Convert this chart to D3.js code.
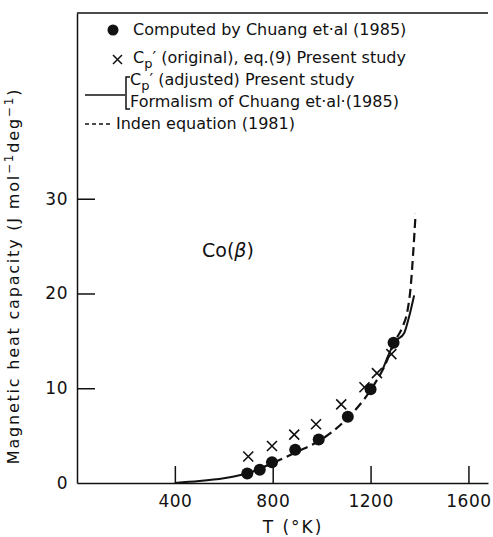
<!DOCTYPE html>
<html>
<head>
<meta charset="utf-8">
<script src="https://cdn.jsdelivr.net/npm/d3@7"></script>
<style>
    body { margin: 0; background: #fff; }
    svg text { font-family: "DejaVu Sans", sans-serif; fill: #111; }
</style>
</head>
<body>
<div id="container"></div>
<script>
// chart values
const xTicks = [400, 800, 1200, 1600];
const yTicks = [0, 10, 20, 30];

// Computed by Chuang et al (1985) - filled circles
const computedT = [696, 747, 797, 892, 988, 1107, 1200, 1294];
const computedCp = [1.0, 1.4, 2.2, 3.5, 4.6, 7.0, 9.9, 14.8];

// Cp' (original), eq.(9) - crosses
const originalT = [700, 797, 888, 977, 1080, 1175, 1226, 1285];
const originalCp = [2.8, 3.9, 5.1, 6.2, 8.3, 10.1, 11.6, 13.6];

// Cp' (adjusted) - solid curve (hidden under the dashes in the middle)
const adjustedT = [400, 500, 600, 700, null, 1250, 1300, 1337, 1357, 1378];
const adjustedCp = [0, 0.2, 0.5, 1.0, null, 12.0, 14.9, 15.8, 17.5, 19.8];

// Inden equation (1981) - dashed curve
const indenT = [700, 800, 900, 1000, 1100, 1200, 1260, 1300, 1331, 1351, 1364, 1374, 1384];
const indenCp = [1.0, 2.1, 3.3, 4.6, 6.7, 9.8, 12.5, 15.0, 16.5, 18.2, 20.7, 24.2, 28.4];

const legendLabels = [
    "Computed by Chuang et·al (1985)",
    "(original), eq.(9) Present study",
    "(adjusted) Present study",
    "Formalism of Chuang et·al·(1985)",
    "Inden equation (1981)"
];

const w = 493;
const h = 537;

const svg = d3.select("#container")
    .append("svg")
    .attr("width", w)
    .attr("height", h);

const x = d3.scaleLinear().domain([0, 1680]).range([77, 488]);
const y = d3.scaleLinear().domain([0, 49.6]).range([483, 13]);

// frame top line
svg.append("line")
    .attr("x1", x(0)).attr("x2", x(1680))
    .attr("y1", y(49.6)).attr("y2", y(49.6))
    .attr("stroke", "#111").attr("stroke-width", 1.5);

const xAxis = d3.axisBottom(x)
    .tickValues(xTicks)
    .tickFormat(d3.format("d"))
    .tickSizeInner(-17)
    .tickSizeOuter(0)
    .tickPadding(12);

const gx = svg.append("g")
    .attr("transform", `translate(0, ${y(0)})`)
    .call(xAxis);

const yAxis = d3.axisLeft(y)
    .tickValues(yTicks)
    .tickSizeInner(-18)
    .tickSizeOuter(0)
    .tickPadding(9);

const gy = svg.append("g")
    .attr("transform", `translate(${x(0)}, 0)`)
    .call(yAxis);

gy.selectAll(".tick").filter(d => d === 0).select("line").remove();

[gx, gy].forEach(g => {
    g.select(".domain").attr("stroke", "#111").attr("stroke-width", 1.5);
    g.selectAll(".tick line").attr("stroke", "#111").attr("stroke-width", 1.5);
    g.selectAll(".tick text")
        .attr("font-family", "DejaVu Sans, sans-serif")
        .attr("font-size", 17)
        .attr("letter-spacing", 0.5)
        .attr("fill", "#111");
});

// curves
const adjusted = adjustedT.map((t, i) => ({ t: t, v: adjustedCp[i] }));
const inden = indenT.map((t, i) => ({ t: t, v: indenCp[i] }));

const line = d3.line()
    .defined(d => d.t !== null)
    .x(d => x(d.t))
    .y(d => y(d.v))
    .curve(d3.curveMonotoneX);

svg.append("path")
    .attr("d", line(adjusted))
    .attr("fill", "none")
    .attr("stroke", "#111")
    .attr("stroke-width", 2);

svg.append("path")
    .attr("d", line(inden))
    .attr("fill", "none")
    .attr("stroke", "#111")
    .attr("stroke-width", 2.2)
    .attr("stroke-dasharray", "9,5");

// crosses
svg.selectAll(".cross")
    .data(originalT.map((t, i) => ({ t: t, v: originalCp[i] })))
    .enter().append("path")
    .attr("class", "cross")
    .attr("d", d => {
        const cx = x(d.t), cy = y(d.v), s = 5;
        return `M${cx - s},${cy - s}L${cx + s},${cy + s}M${cx + s},${cy - s}L${cx - s},${cy + s}`;
    })
    .attr("stroke", "#111")
    .attr("stroke-width", 1.6);

// filled circles
svg.selectAll(".dot")
    .data(computedT.map((t, i) => ({ t: t, v: computedCp[i] })))
    .enter().append("circle")
    .attr("class", "dot")
    .attr("cx", d => x(d.t))
    .attr("cy", d => y(d.v))
    .attr("r", 6)
    .attr("fill", "#111");

// Co(beta) label
svg.append("text")
    .attr("x", 202)
    .attr("y", 257)
    .attr("font-size", 19)
    .html('Co(<tspan font-style="italic">β</tspan>)');

// legend
const lg = svg.append("g").attr("font-size", 16);

lg.append("circle").attr("cx", 113).attr("cy", 30).attr("r", 5.5).attr("fill", "#111");
lg.append("text").attr("x", 133).attr("y", 35).text(legendLabels[0]);

lg.append("path")
    .attr("d", "M113,55L122,64M122,55L113,64")
    .attr("stroke", "#111").attr("stroke-width", 1.5);
const t1 = lg.append("text").attr("x", 133).attr("y", 63);
t1.append("tspan").text("C");
t1.append("tspan").attr("font-size", 13).attr("dy", 5).text("p");
t1.append("tspan").attr("dy", -5).text("′ " + legendLabels[1]);

lg.append("line").attr("x1", 85).attr("x2", 125).attr("y1", 95).attr("y2", 95)
    .attr("stroke", "#111").attr("stroke-width", 1.5);
lg.append("path")
    .attr("d", "M130,77L126,77L126,109L130,109")
    .attr("fill", "none").attr("stroke", "#111").attr("stroke-width", 1.5);
const t2 = lg.append("text").attr("x", 130).attr("y", 85);
t2.append("tspan").text("C");
t2.append("tspan").attr("font-size", 13).attr("dy", 5).text("p");
t2.append("tspan").attr("dy", -5).text("′ " + legendLabels[2]);
lg.append("text").attr("x", 130).attr("y", 107).text(legendLabels[3]);

lg.append("line").attr("x1", 85).attr("x2", 113).attr("y1", 124).attr("y2", 124)
    .attr("stroke", "#111").attr("stroke-width", 1.3).attr("stroke-dasharray", "4,3");
lg.append("text").attr("x", 116).attr("y", 129).text(legendLabels[4]);

// axis titles
const yt = svg.append("text")
    .attr("transform", "translate(19, 276) rotate(-90)")
    .attr("text-anchor", "middle")
    .attr("font-size", 16)
    .attr("letter-spacing", 1.8);
yt.append("tspan").text("Magnetic heat capacity (J mol");
yt.append("tspan").attr("font-size", 12).attr("dy", -6).text("−1");
yt.append("tspan").attr("dy", 6).text("deg");
yt.append("tspan").attr("font-size", 12).attr("dy", -6).text("−1");
yt.append("tspan").attr("dy", 6).text(")");

svg.append("text")
    .attr("x", 293)
    .attr("y", 533)
    .attr("text-anchor", "middle")
    .attr("font-size", 17)
    .attr("letter-spacing", 2)
    .text("T (°K)");
</script>
</body>
</html>
